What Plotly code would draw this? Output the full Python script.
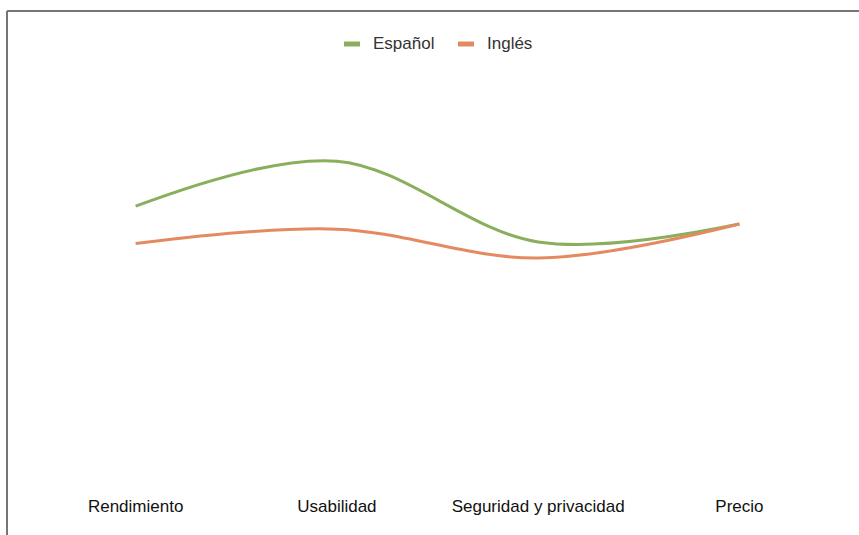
import plotly.graph_objects as go

# Data
categories = ["Rendimiento", "Usabilidad", "Seguridad y privacidad", "Precio"]
espanol = [3.28, 3.81, 2.86, 3.07]
ingles = [2.84, 3.01, 2.67, 3.07]

series_names = ["Español", "Inglés"]
series_colors = ["#8AAF5C", "#E58A60"]

W, H = 859, 535
L, R, T, B = 35, 19, 60, 50
FONT = "Arial, Liberation Sans, sans-serif"


def px(x):
    return (x - L) / (W - L - R)


def py(y):
    return (H - B - y) / (H - T - B)


fig = go.Figure()
for name, vals, color in zip(series_names, [espanol, ingles], series_colors):
    fig.add_trace(go.Scatter(
        x=categories, y=vals, name=name, mode="lines",
        line=dict(color=color, width=3, shape="spline", smoothing=1.0),
        showlegend=False, hoverinfo="x+y+name",
    ))

shapes = [
    # frame: top and left edges
    dict(type="line", xref="paper", yref="paper", x0=px(7), x1=px(W + 5), y0=py(11), y1=py(11),
         line=dict(color="#767676", width=2)),
    dict(type="line", xref="paper", yref="paper", x0=px(7), x1=px(7), y0=py(11), y1=py(H + 5),
         line=dict(color="#767676", width=2)),
]
annotations = []
legend_items = [(344, 371), (458, 485)]
for (sx, tx), name, color in zip(legend_items, series_names, series_colors):
    shapes.append(dict(type="line", xref="paper", yref="paper", x0=px(sx), x1=px(sx + 16),
                       y0=py(44), y1=py(44), line=dict(color=color, width=5)))
    annotations.append(dict(xref="paper", yref="paper", x=px(tx), y=py(43.5), text=name,
                            showarrow=False, xanchor="left", yanchor="middle",
                            font=dict(family=FONT, size=17, color="#333333")))

fig.update_layout(
    width=W, height=H,
    margin=dict(l=L, r=R, t=T, b=B),
    paper_bgcolor="white", plot_bgcolor="white",
    shapes=shapes, annotations=annotations,
    xaxis=dict(type="category", range=[-0.5, 3.5], showgrid=False, zeroline=False,
               showline=False, ticks="", ticklabelstandoff=9,
               tickfont=dict(family=FONT, size=17, color="#111111")),
    yaxis=dict(range=[0, 5], visible=False, showgrid=False, zeroline=False),
)

fig.write_html("out.html")
